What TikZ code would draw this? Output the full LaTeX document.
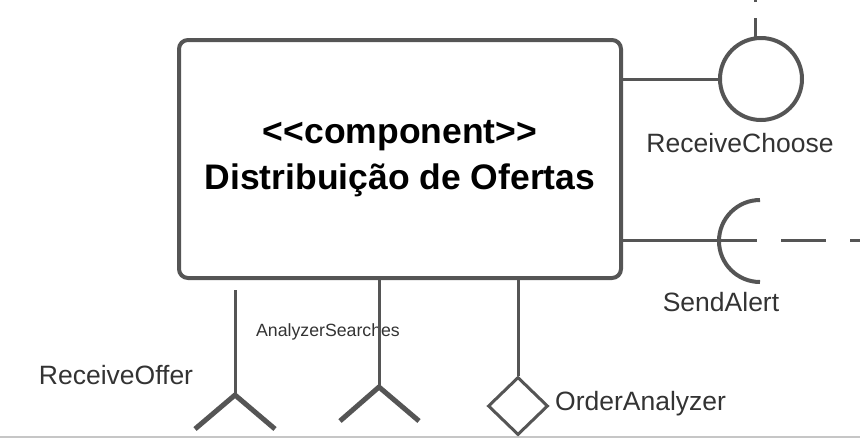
\documentclass[tikz,border=0pt]{standalone}
\usepackage{fontspec}
\setmainfont{Liberation Sans}
\usetikzlibrary{positioning,shapes.geometric}
\definecolor{umlgray}{HTML}{555555}
\definecolor{labelgray}{HTML}{333333}
\tikzset{
    comp/.style={draw=umlgray, line width=4pt, rounded corners=9pt, minimum width=442pt, minimum height=238pt, align=center, font=\bfseries\fontsize{35.5}{46}\selectfont},
    wire/.style={draw=umlgray, line width=3pt},
    fork/.style={draw=umlgray, line width=5pt, line join=miter},
    lbl/.style={text=labelgray, font=\fontsize{26.5}{30}\selectfont, inner sep=0pt},
}
\begin{document}
\begin{tikzpicture}[x=1pt, y=-1pt]
            \useasboundingbox (0, 0) rectangle (860, 440);
            \draw[line width=2pt, color=gray!45] (0, 437) -- (860, 437);
            \node[comp] (comp) at (400, 159) {{<}{<}component{>}{>}\\Distribuição de Ofertas};
            % provided interfaces on the right
            \node[circle, draw=umlgray, line width=4pt, minimum size=82pt, inner sep=0pt] (choose) at (761, 79) {};
            \coordinate (choosetop) at (755, 38);
            \coordinate (chooseout) at (755, -10);
            \draw[wire] (comp.east |- choose) -- (choose);
            \draw[wire, dash pattern=on 20pt off 16pt] (choosetop) -- (chooseout);
            \node[lbl] (choosel) at (740, 143) {ReceiveChoose};
            \coordinate (alerttop) at (760, 200);
            \coordinate (alertin) at (712, 240);
            \coordinate (alertout) at (870, 240);
            \draw[wire] (comp.east |- alertin) -- (alertin);
            \draw[wire, dash pattern=on 45pt off 24pt] (alertin) -- (alertout);
            \draw[wire, line width=4pt] (alerttop) arc[start angle=90, end angle=270, radius=41pt];
            \node[lbl] (alertl) at (721, 302) {SendAlert};
            % ports below
            \node[lbl] (offerl) at (116, 375) {ReceiveOffer};
            \coordinate (offertop) at (235, 290);
            \coordinate (offerfork) at (235, 395);
            \draw[wire] (offertop) -- (offerfork);
            \draw[fork] (195, 429) -- (offerfork) -- (275, 429);
            \node[lbl, font=\fontsize{17.7}{20}\selectfont] (searchl) at (328, 332) {AnalyzerSearches};
            \coordinate (searchfork) at (379, 387);
            \draw[wire] (comp.south -| searchfork) -- (searchfork);
            \draw[fork] (340, 421) -- (searchfork) -- (419, 421);
            \node[diamond, draw=umlgray, line width=3pt, minimum width=60pt, minimum height=58pt, inner sep=0pt] (order) at (518, 406) {};
            \draw[wire] (comp.south -| order) -- (order);
            \node[lbl, anchor=west] (orderl) at (555, 404) {OrderAnalyzer};
\end{tikzpicture}
\end{document}
